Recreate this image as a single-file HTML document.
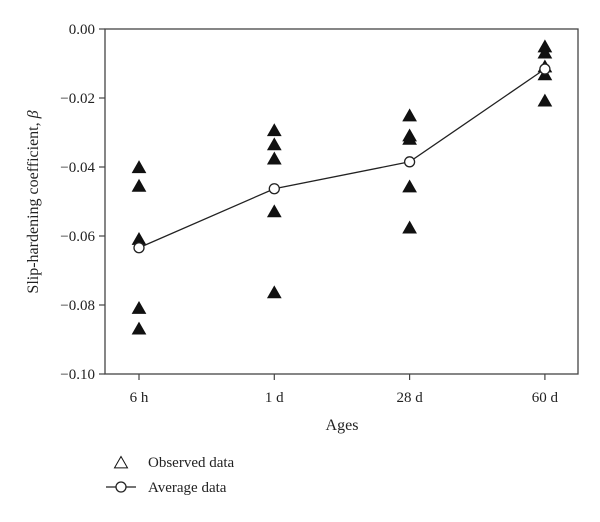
<!DOCTYPE html>
<html><head><meta charset="utf-8"><style>
body{margin:0;background:#fff;}
svg text{font-family:"Liberation Serif",serif;fill:#222;}
</style></head><body>
<svg width="600" height="517">
<g id="g"></g>
</svg>
<script>
const categories=["6 h","1 d","28 d","60 d"];
const obs6h=[-0.0402,-0.0456,-0.061,-0.081,-0.087];
const obs1d=[-0.0295,-0.0336,-0.0377,-0.053,-0.0765];
const obs28d=[-0.0252,-0.031,-0.032,-0.0458,-0.0577];
const obs60d=[-0.0052,-0.007,-0.011,-0.0133,-0.0209];
const averages=[-0.0634,-0.0463,-0.0385,-0.0116];
const yTicks=[0,-0.02,-0.04,-0.06,-0.08,-0.10];
const yTickLabels=["0.00","\u22120.02","\u22120.04","\u22120.06","\u22120.08","\u22120.10"];
const observed=[obs6h,obs1d,obs28d,obs60d];

const L=105,T=29,R=578,B=374;
const xs=i=>139+i*135.3;
const ys=v=>T+(0-v)/0.10*(B-T);
const g=document.getElementById('g');
const NS='http://www.w3.org/2000/svg';
function mk(tag,attrs,name,text){const e=document.createElementNS(NS,tag);for(const k in attrs)e.setAttribute(k,attrs[k]);


if(text!==undefined)e.textContent=text;g.appendChild(e);return e;}
mk('rect',{x:L,y:T,width:R-L,height:B-T,fill:'none',stroke:'#444','stroke-width':1.3},'plot-frame');
yTicks.forEach((v,i)=>{const y=ys(v);
mk('line',{x1:L-6,x2:L,y1:y,y2:y,stroke:'#444','stroke-width':1.2},'y-tick');
mk('text',{x:L-10,y:y+5,'text-anchor':'end','font-size':15},'y-tick-label',yTickLabels[i]);});
categories.forEach((c,i)=>{const x=xs(i);
mk('line',{x1:x,x2:x,y1:B,y2:B+6,stroke:'#444','stroke-width':1.2},'x-tick');
mk('text',{x:x,y:B+28,'text-anchor':'middle','font-size':15},'x-tick-label',c);});
mk('text',{x:342,y:430,'text-anchor':'middle','font-size':16},'x-axis-title','Ages');
const yt=mk('text',{x:0,y:0,'text-anchor':'middle','font-size':16,transform:'translate(38,202) rotate(-90)'},'y-axis-title','Slip-hardening coefficient, ');
const bt=document.createElementNS(NS,'tspan');bt.setAttribute('font-style','italic');bt.textContent='\u03b2';yt.appendChild(bt);
function tri(x,y,fill,name){const s=6.5;mk('polygon',{points:`${x},${y-s} ${x-s},${y+s*0.75} ${x+s},${y+s*0.75}`,fill:fill,stroke:'#111','stroke-width':1},name);}
observed.forEach((arr,i)=>arr.forEach(v=>tri(xs(i),ys(v),'#111','observed-point')));
mk('polyline',{points:averages.map((v,i)=>xs(i)+','+ys(v)).join(' '),fill:'none',stroke:'#222','stroke-width':1.3},'average-line');
averages.forEach((v,i)=>mk('circle',{cx:xs(i),cy:ys(v),r:5,fill:'#fff',stroke:'#222','stroke-width':1.3},'average-point'));
tri(121,463,'#fff','legend-observed-symbol');
mk('text',{x:148,y:467,'font-size':15},'legend-observed-label','Observed data');
mk('line',{x1:106,x2:136,y1:487,y2:487,stroke:'#222','stroke-width':1.3},'legend-average-line');
mk('circle',{cx:121,cy:487,r:5,fill:'#fff',stroke:'#222','stroke-width':1.3},'legend-average-symbol');
mk('text',{x:148,y:492,'font-size':15},'legend-average-label','Average data');
</script>
</body></html>
